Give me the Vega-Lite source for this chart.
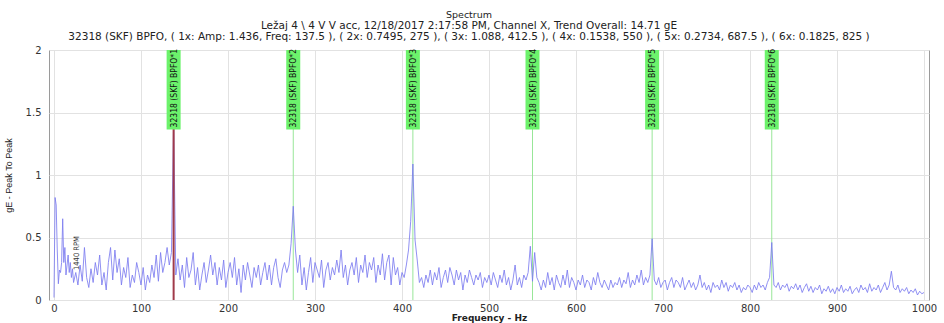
{
  "$schema": "https://vega.github.io/schema/vega-lite/v6.json",
  "width": 880,
  "height": 250,
  "autosize": "none",
  "padding": {"left": 49, "top": 50, "right": 15, "bottom": 23},
  "background": "white",
  "config": {
    "view": {"stroke": "#9a9a9a", "strokeWidth": 1},
    "axis": {"grid": true, "gridColor": "#e2e2e2", "gridWidth": 1, "domain": false, "ticks": false,
      "labelFont": "DejaVu Sans", "labelFontSize": 10, "labelColor": "#333", "titleColor": "#222"}
  },
  "title": {
    "text": "Spectrum",
    "subtitle": ["Ležaj 4 \\ 4 V V acc, 12/18/2017 2:17:58 PM, Channel X, Trend Overall: 14.71 gE", "32318 (SKF) BPFO, ( 1x: Amp: 1.436, Freq: 137.5 ), ( 2x: 0.7495, 275 ), ( 3x: 1.088, 412.5 ), ( 4x: 0.1538, 550 ), ( 5x: 0.2734, 687.5 ), ( 6x: 0.1825, 825 )"],
    "anchor": "middle",
    "dx": -20,
    "offset": 3,
    "font": "DejaVu Sans",
    "fontSize": 9.5,
    "fontWeight": "normal",
    "color": "#222",
    "subtitleFont": "DejaVu Sans",
    "subtitleFontSize": 10.5,
    "subtitleColor": "#222",
    "subtitlePadding": 2,
    "subtitleLineHeight": 10.5
  },
  "datasets": {
    "spec": [
      {"f":0,"a":0.02},{"f":1.25,"a":0.82},{"f":2.5,"a":0.76},{"f":3.75,"a":0.40},{"f":5,"a":0.13},{"f":6.25,"a":0.24},{"f":7.5,"a":0.22},{"f":8.75,"a":0.30},{"f":10,"a":0.65},{"f":11.25,"a":0.30},{"f":12.5,"a":0.42},{"f":13.75,"a":0.20},{"f":15,"a":0.28},{"f":16.25,"a":0.36},{"f":17.5,"a":0.22},{"f":18.75,"a":0.30},{"f":20,"a":0.18},{"f":21.25,"a":0.25},{"f":22.5,"a":0.14},
      {"f":25,"a":0.22},{"f":27.5,"a":0.12},{"f":30,"a":0.28},{"f":32.5,"a":0.15},{"f":35,"a":0.42},{"f":37.5,"a":0.18},{"f":40,"a":0.10},{"f":42.5,"a":0.25},{"f":45,"a":0.14},{"f":47.5,"a":0.30},
      {"f":50,"a":0.20},{"f":52.5,"a":0.36},{"f":55,"a":0.12},{"f":57.5,"a":0.22},{"f":60,"a":0.08},{"f":62.5,"a":0.30},{"f":65,"a":0.42},{"f":67.5,"a":0.16},{"f":70,"a":0.40},{"f":72.5,"a":0.22},
      {"f":75,"a":0.33},{"f":77.5,"a":0.12},{"f":80,"a":0.26},{"f":82.5,"a":0.18},{"f":85,"a":0.34},{"f":87.5,"a":0.10},{"f":90,"a":0.20},{"f":92.5,"a":0.14},{"f":95,"a":0.30},{"f":97.5,"a":0.22},
      {"f":100,"a":0.12},{"f":102.5,"a":0.26},{"f":105,"a":0.08},{"f":107.5,"a":0.20},{"f":110,"a":0.14},{"f":112.5,"a":0.28},{"f":115,"a":0.18},{"f":117.5,"a":0.36},{"f":120,"a":0.15},{"f":122.5,"a":0.38},
      {"f":125,"a":0.22},{"f":127.5,"a":0.30},{"f":130,"a":0.42},{"f":132.5,"a":0.28},{"f":135,"a":0.38},{"f":137.5,"a":1.436},{"f":140,"a":0.20},{"f":142.5,"a":0.33},{"f":145,"a":0.16},{"f":147.5,"a":0.28},
      {"f":150,"a":0.10},{"f":152.5,"a":0.34},{"f":155,"a":0.18},{"f":157.5,"a":0.24},{"f":160,"a":0.38},{"f":162.5,"a":0.12},{"f":165,"a":0.26},{"f":167.5,"a":0.08},{"f":170,"a":0.20},{"f":172.5,"a":0.30},
      {"f":175,"a":0.14},{"f":177.5,"a":0.24},{"f":180,"a":0.36},{"f":182.5,"a":0.20},{"f":185,"a":0.30},{"f":187.5,"a":0.12},{"f":190,"a":0.26},{"f":192.5,"a":0.16},{"f":195,"a":0.32},{"f":197.5,"a":0.10},
      {"f":200,"a":0.22},{"f":202.5,"a":0.30},{"f":205,"a":0.18},{"f":207.5,"a":0.34},{"f":210,"a":0.12},{"f":212.5,"a":0.25},{"f":215,"a":0.06},{"f":217.5,"a":0.28},{"f":220,"a":0.16},{"f":222.5,"a":0.30},
      {"f":225,"a":0.20},{"f":227.5,"a":0.10},{"f":230,"a":0.26},{"f":232.5,"a":0.18},{"f":235,"a":0.28},{"f":237.5,"a":0.12},{"f":240,"a":0.22},{"f":242.5,"a":0.30},{"f":245,"a":0.16},{"f":247.5,"a":0.28},
      {"f":250,"a":0.12},{"f":252.5,"a":0.26},{"f":255,"a":0.33},{"f":257.5,"a":0.18},{"f":260,"a":0.10},{"f":262.5,"a":0.24},{"f":265,"a":0.30},{"f":267.5,"a":0.22},{"f":270,"a":0.28},{"f":272.5,"a":0.45},
      {"f":275,"a":0.75},{"f":277.5,"a":0.40},{"f":280,"a":0.22},{"f":282.5,"a":0.36},{"f":285,"a":0.12},{"f":287.5,"a":0.26},{"f":290,"a":0.08},{"f":292.5,"a":0.22},{"f":295,"a":0.34},{"f":297.5,"a":0.14},
      {"f":300,"a":0.30},{"f":302.5,"a":0.24},{"f":305,"a":0.18},{"f":307.5,"a":0.32},{"f":310,"a":0.10},{"f":312.5,"a":0.24},{"f":315,"a":0.30},{"f":317.5,"a":0.16},{"f":320,"a":0.26},{"f":322.5,"a":0.20},
      {"f":325,"a":0.32},{"f":327.5,"a":0.22},{"f":330,"a":0.40},{"f":332.5,"a":0.18},{"f":335,"a":0.28},{"f":337.5,"a":0.12},{"f":340,"a":0.24},{"f":342.5,"a":0.30},{"f":345,"a":0.20},{"f":347.5,"a":0.34},
      {"f":350,"a":0.14},{"f":352.5,"a":0.28},{"f":355,"a":0.22},{"f":357.5,"a":0.36},{"f":360,"a":0.18},{"f":362.5,"a":0.30},{"f":365,"a":0.24},{"f":367.5,"a":0.34},{"f":370,"a":0.14},{"f":372.5,"a":0.28},
      {"f":375,"a":0.20},{"f":377.5,"a":0.37},{"f":380,"a":0.16},{"f":382.5,"a":0.30},{"f":385,"a":0.36},{"f":387.5,"a":0.12},{"f":390,"a":0.34},{"f":392.5,"a":0.20},{"f":395,"a":0.26},{"f":397.5,"a":0.12},
      {"f":400,"a":0.22},{"f":402.5,"a":0.18},{"f":405,"a":0.28},{"f":407.5,"a":0.40},{"f":410,"a":0.63},{"f":412.5,"a":1.088},{"f":415,"a":0.48},{"f":417.5,"a":0.32},{"f":420,"a":0.14},{"f":422.5,"a":0.18},
      {"f":425,"a":0.10},{"f":427.5,"a":0.20},{"f":430,"a":0.14},{"f":432.5,"a":0.24},{"f":435,"a":0.12},{"f":437.5,"a":0.22},{"f":440,"a":0.16},{"f":442.5,"a":0.26},{"f":445,"a":0.10},{"f":447.5,"a":0.18},
      {"f":450,"a":0.24},{"f":452.5,"a":0.14},{"f":455,"a":0.26},{"f":457.5,"a":0.20},{"f":460,"a":0.12},{"f":462.5,"a":0.24},{"f":465,"a":0.16},{"f":467.5,"a":0.22},{"f":470,"a":0.08},{"f":472.5,"a":0.20},
      {"f":475,"a":0.14},{"f":477.5,"a":0.24},{"f":480,"a":0.18},{"f":482.5,"a":0.12},{"f":485,"a":0.20},{"f":487.5,"a":0.16},{"f":490,"a":0.22},{"f":492.5,"a":0.10},{"f":495,"a":0.18},{"f":497.5,"a":0.14},
      {"f":500,"a":0.20},{"f":502.5,"a":0.12},{"f":505,"a":0.22},{"f":507.5,"a":0.16},{"f":510,"a":0.10},{"f":512.5,"a":0.20},{"f":515,"a":0.14},{"f":517.5,"a":0.24},{"f":520,"a":0.12},{"f":522.5,"a":0.18},
      {"f":525,"a":0.08},{"f":527.5,"a":0.16},{"f":530,"a":0.28},{"f":532.5,"a":0.12},{"f":535,"a":0.18},{"f":537.5,"a":0.10},{"f":540,"a":0.20},{"f":542.5,"a":0.16},{"f":545,"a":0.22},{"f":547.5,"a":0.43},
      {"f":550,"a":0.15},{"f":552.5,"a":0.38},{"f":555,"a":0.18},{"f":557.5,"a":0.14},{"f":560,"a":0.08},{"f":562.5,"a":0.16},{"f":565,"a":0.10},{"f":567.5,"a":0.22},{"f":570,"a":0.12},{"f":572.5,"a":0.18},
      {"f":575,"a":0.08},{"f":577.5,"a":0.20},{"f":580,"a":0.14},{"f":582.5,"a":0.10},{"f":585,"a":0.20},{"f":587.5,"a":0.12},{"f":590,"a":0.24},{"f":592.5,"a":0.10},{"f":595,"a":0.18},{"f":597.5,"a":0.14},
      {"f":600,"a":0.08},{"f":602.5,"a":0.16},{"f":605,"a":0.12},{"f":607.5,"a":0.20},{"f":610,"a":0.10},{"f":612.5,"a":0.16},{"f":615,"a":0.14},{"f":617.5,"a":0.08},{"f":620,"a":0.18},{"f":622.5,"a":0.12},
      {"f":625,"a":0.22},{"f":627.5,"a":0.14},{"f":630,"a":0.10},{"f":632.5,"a":0.16},{"f":635,"a":0.12},{"f":637.5,"a":0.08},{"f":640,"a":0.16},{"f":642.5,"a":0.10},{"f":645,"a":0.14},{"f":647.5,"a":0.12},
      {"f":650,"a":0.18},{"f":652.5,"a":0.10},{"f":655,"a":0.16},{"f":657.5,"a":0.13},{"f":660,"a":0.22},{"f":662.5,"a":0.10},{"f":665,"a":0.16},{"f":667.5,"a":0.12},{"f":670,"a":0.20},{"f":672.5,"a":0.14},
      {"f":675,"a":0.24},{"f":677.5,"a":0.12},{"f":680,"a":0.18},{"f":682.5,"a":0.14},{"f":685,"a":0.20},{"f":687.5,"a":0.49},{"f":690,"a":0.16},{"f":692.5,"a":0.12},{"f":695,"a":0.18},{"f":697.5,"a":0.10},
      {"f":700,"a":0.14},{"f":702.5,"a":0.16},{"f":705,"a":0.08},{"f":707.5,"a":0.14},{"f":710,"a":0.18},{"f":712.5,"a":0.10},{"f":715,"a":0.16},{"f":717.5,"a":0.14},{"f":720,"a":0.10},{"f":722.5,"a":0.18},
      {"f":725,"a":0.08},{"f":727.5,"a":0.12},{"f":730,"a":0.16},{"f":732.5,"a":0.10},{"f":735,"a":0.14},{"f":737.5,"a":0.08},{"f":740,"a":0.12},{"f":742.5,"a":0.20},{"f":745,"a":0.10},{"f":747.5,"a":0.14},
      {"f":750,"a":0.08},{"f":752.5,"a":0.12},{"f":755,"a":0.06},{"f":757.5,"a":0.14},{"f":760,"a":0.10},{"f":762.5,"a":0.12},{"f":765,"a":0.08},{"f":767.5,"a":0.16},{"f":770,"a":0.10},{"f":772.5,"a":0.14},
      {"f":775,"a":0.07},{"f":777.5,"a":0.12},{"f":780,"a":0.10},{"f":782.5,"a":0.14},{"f":785,"a":0.08},{"f":787.5,"a":0.12},{"f":790,"a":0.06},{"f":792.5,"a":0.10},{"f":795,"a":0.08},{"f":797.5,"a":0.12},
      {"f":800,"a":0.10},{"f":802.5,"a":0.06},{"f":805,"a":0.12},{"f":807.5,"a":0.08},{"f":810,"a":0.14},{"f":812.5,"a":0.10},{"f":815,"a":0.12},{"f":817.5,"a":0.08},{"f":820,"a":0.14},{"f":822.5,"a":0.18},
      {"f":825,"a":0.46},{"f":827.5,"a":0.12},{"f":830,"a":0.10},{"f":832.5,"a":0.14},{"f":835,"a":0.08},{"f":837.5,"a":0.12},{"f":840,"a":0.10},{"f":842.5,"a":0.13},{"f":845,"a":0.07},{"f":847.5,"a":0.11},
      {"f":850,"a":0.09},{"f":852.5,"a":0.13},{"f":855,"a":0.08},{"f":857.5,"a":0.12},{"f":860,"a":0.06},{"f":862.5,"a":0.10},{"f":865,"a":0.13},{"f":867.5,"a":0.07},{"f":870,"a":0.11},{"f":872.5,"a":0.06},
      {"f":875,"a":0.10},{"f":877.5,"a":0.08},{"f":880,"a":0.12},{"f":882.5,"a":0.05},{"f":885,"a":0.09},{"f":887.5,"a":0.07},{"f":890,"a":0.11},{"f":892.5,"a":0.06},{"f":895,"a":0.09},{"f":897.5,"a":0.05},
      {"f":900,"a":0.10},{"f":902.5,"a":0.07},{"f":905,"a":0.12},{"f":907.5,"a":0.06},{"f":910,"a":0.09},{"f":912.5,"a":0.07},{"f":915,"a":0.11},{"f":917.5,"a":0.05},{"f":920,"a":0.08},{"f":922.5,"a":0.10},
      {"f":925,"a":0.06},{"f":927.5,"a":0.12},{"f":930,"a":0.08},{"f":932.5,"a":0.10},{"f":935,"a":0.06},{"f":937.5,"a":0.13},{"f":940,"a":0.07},{"f":942.5,"a":0.10},{"f":945,"a":0.08},{"f":947.5,"a":0.12},
      {"f":950,"a":0.06},{"f":952.5,"a":0.10},{"f":955,"a":0.14},{"f":957.5,"a":0.08},{"f":960,"a":0.12},{"f":962.5,"a":0.23},{"f":965,"a":0.10},{"f":967.5,"a":0.08},{"f":970,"a":0.12},{"f":972.5,"a":0.06},
      {"f":975,"a":0.09},{"f":977.5,"a":0.07},{"f":980,"a":0.10},{"f":982.5,"a":0.05},{"f":985,"a":0.08},{"f":987.5,"a":0.06},{"f":990,"a":0.09},{"f":992.5,"a":0.04},{"f":995,"a":0.07},{"f":997.5,"a":0.05},
      {"f":1000,"a":0.06}
    ],
    "marks": [
      {"f":137.5,"n":1,"label":"32318 (SKF) BPFO*1"},
      {"f":275,"n":2,"label":"32318 (SKF) BPFO*2"},
      {"f":412.5,"n":3,"label":"32318 (SKF) BPFO*3"},
      {"f":550,"n":4,"label":"32318 (SKF) BPFO*4"},
      {"f":687.5,"n":5,"label":"32318 (SKF) BPFO*5"},
      {"f":825,"n":6,"label":"32318 (SKF) BPFO*6"}
    ],
    "rpm": [{"f":27,"label":"1440 RPM"}]
  },
  "layer": [
    {
      "data": {"name": "marks"},
      "transform": [{"filter": "datum.n > 1"}],
      "mark": {"type": "rule", "color": "#98e698", "strokeWidth": 1},
      "encoding": {
        "x": {"field": "f", "type": "quantitative", "scale": {"domain": [0, 1000], "nice": false},
          "axis": {"values": [0,100,200,300,400,500,600,700,800,900,1000], "format": "d", "title": "Frequency - Hz", "titleFont": "DejaVu Sans", "titleFontSize": 9, "titleFontWeight": "bold", "titlePadding": 0, "labelPadding": 3}},
        "y": {"datum": 0, "type": "quantitative", "scale": {"domain": [0, 2], "nice": false},
          "axis": {"values": [0, 0.5, 1, 1.5, 2], "format": "~g", "title": "gE - Peak To Peak", "titleFont": "Liberation Sans", "titleFontSize": 9, "titleFontWeight": "normal", "titlePadding": 12, "labelPadding": 8}},
        "y2": {"datum": 1.37}
      }
    },
    {
      "data": {"name": "spec"},
      "mark": {"type": "line", "color": "#7c7cf0", "strokeWidth": 1, "opacity": 0.85},
      "encoding": {
        "x": {"field": "f", "type": "quantitative"},
        "y": {"field": "a", "type": "quantitative"}
      }
    },
    {
      "data": {"name": "marks"},
      "transform": [{"filter": "datum.n == 1"}],
      "mark": {"type": "rule", "color": "#a03a4a", "strokeWidth": 2},
      "encoding": {
        "x": {"field": "f", "type": "quantitative"},
        "y": {"datum": 0},
        "y2": {"datum": 1.37}
      }
    },
    {
      "data": {"name": "marks"},
      "mark": {"type": "bar", "color": "#6cf26c", "width": 14},
      "encoding": {
        "x": {"field": "f", "type": "quantitative"},
        "y": {"datum": 1.365},
        "y2": {"datum": 2}
      }
    },
    {
      "data": {"name": "marks"},
      "mark": {"type": "text", "angle": 270, "align": "left", "baseline": "middle", "font": "DejaVu Sans Condensed, Liberation Sans", "fontSize": 8.5, "color": "#111", "dx": 2},
      "encoding": {
        "x": {"field": "f", "type": "quantitative"},
        "y": {"datum": 1.365},
        "text": {"field": "label"}
      }
    },
    {
      "data": {"name": "rpm"},
      "mark": {"type": "text", "angle": 270, "align": "left", "baseline": "middle", "font": "DejaVu Sans Condensed, Liberation Sans", "fontSize": 7.5, "color": "#333"},
      "encoding": {
        "x": {"field": "f", "type": "quantitative"},
        "y": {"datum": 0.24},
        "text": {"field": "label"}
      }
    }
  ]
}
